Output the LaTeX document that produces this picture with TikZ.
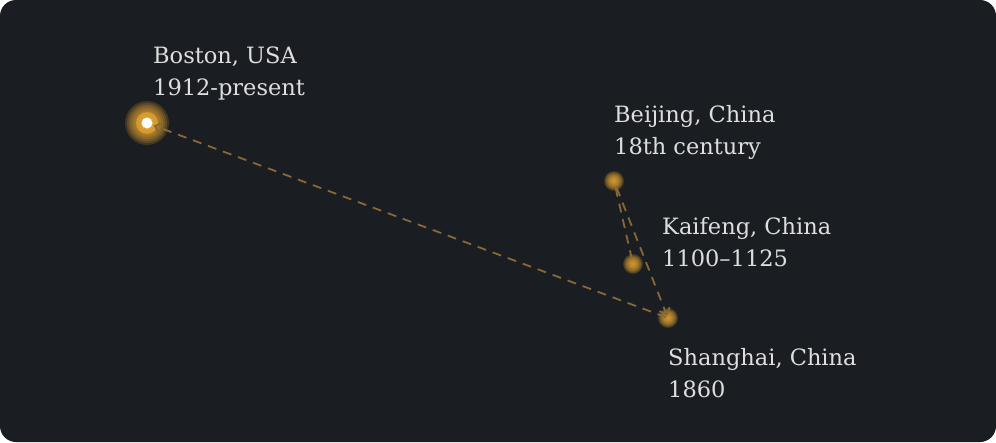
\documentclass[tikz,border=0pt]{standalone}
\usepackage{fontspec}
\setmainfont{DejaVu Serif}
\usetikzlibrary{arrows.meta, positioning}
\definecolor{bgdark}{RGB}{26,29,33}
\definecolor{glowgold}{RGB}{236,170,50}
\definecolor{routebrown}{RGB}{135,104,55}
\definecolor{labelgray}{RGB}{222,222,222}

\begin{document}
\begin{tikzpicture}[
  x=1pt, y=-1pt,
  city/.style={circle, inner sep=0pt, minimum size=14pt},
  place/.style={anchor=base west, align=left, text=labelgray, inner sep=0pt, font=\fontsize{22.5}{32}\selectfont},
  route/.style={draw=routebrown, line width=1.8pt, dash pattern=on 9pt off 7pt, -{Straight Barb[length=6pt, width=11pt]}},
  halo/.style={fill=glowgold, opacity=0.18}
]
\fill[white] (0,0) rectangle (996,442);
\fill[bgdark, rounded corners=16pt] (0,0) rectangle (996,442);
\useasboundingbox (0,0) rectangle (996,442);

% cities
\node[city] (boston) at (147,123) {};
\node[city] (beijing) at (614,181) {};
\node[city] (kaifeng) at (633,264) {};
\node[city, minimum size=4pt] (shanghai) at (668,318) {};

% glow
\foreach \r in {4,6,...,22}
  \fill[halo] (boston) circle (\r);
\fill[glowgold, opacity=0.6] (boston) circle (11);
\foreach \c in {beijing, kaifeng, shanghai}
  \foreach \r in {2,3,...,10}
    \fill[halo] (\c) circle (\r);

% labels
\node[place] (bostonlbl) at (153,95) {Boston, USA\\1912-present};
\node[place] (beijinglbl) at (614,154) {Beijing, China\\18th century};
\node[place] (kaifenglbl) at (662,266) {Kaifeng, China\\1100--1125};
\node[place] (shanghailbl) at (668,397) {Shanghai, China\\1860};

% routes
\draw[route, -] (beijing) -- (kaifeng);
\draw[route] (beijing) -- (shanghai);
\draw[route] (shanghai) -- (boston);

\fill[white] (boston) circle (5.5);
\end{tikzpicture}
\end{document}
